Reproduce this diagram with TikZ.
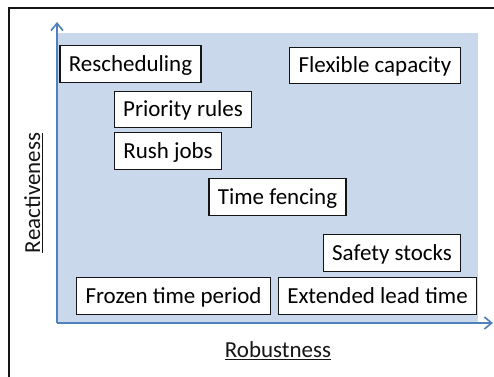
\documentclass[tikz,border=0pt]{standalone}
\usepackage{fontspec}
\setmainfont{Carlito}
\usepackage{tikz}
\usetikzlibrary{arrows.meta}
\definecolor{ink}{HTML}{151515}
\definecolor{axis}{HTML}{4F81BD}
\definecolor{field}{HTML}{CAD8EB}
\tikzset{
  lever/.style={draw=ink,fill=white,line width=1.1pt,inner xsep=0.27cm,inner ysep=0pt,minimum height=1.1cm,text height=16pt,text depth=3.4pt,font=\fontsize{19.6}{23}\selectfont},
  axislabel/.style={font=\fontsize{19.6}{23}\selectfont,color=ink}
}

\begin{document}
\begin{tikzpicture}
  \useasboundingbox (0,0) rectangle (14.82,11.28);
  \fill[white] (0,0) rectangle (14.82,11.28);
  \begin{scope}
    \clip (0,0) rectangle (14.82,11.28);
    \draw[ink,line width=1.3pt] (0.27,-0.5) rectangle (15.3,11.04);
  \end{scope}

  % quadrant
  \fill[field] (1.71,1.59) rectangle (14.34,10.29);
  \coordinate (o) at (1.71,1.59);
  \coordinate (ytip) at (1.71,10.62);
  \coordinate (xtip) at (14.79,1.59);
  \draw[axis,line width=1.4pt,-{Straight Barb[length=2.2mm,width=3.6mm]}] (o) -- (ytip);
  \draw[axis,line width=1.4pt,-{Straight Barb[length=2.2mm,width=3.6mm]}] (o) -- (xtip);

  \node[axislabel] (rob) at (8.34,0.75) {\underline{Robustness}};
  \node[axislabel,rotate=90] (rea) at (1.0,5.49) {\underline{Reactiveness}};

  % levers
  \node[lever] (resch) at (3.915,9.36) {Rescheduling};
  \node[lever] (flex) at (11.25,9.315) {Flexible capacity};
  \node[lever] (prio) at (5.49,7.995) {Priority rules};
  \node[lever] (rush) at (5.04,6.75) {Rush jobs};
  \node[lever] (fence) at (8.325,5.37) {Time fencing};
  \node[lever] (safety) at (11.76,3.69) {Safety stocks};
  \node[lever] (frozen) at (5.205,2.4) {Frozen time period};
  \node[lever] (lead) at (11.325,2.4) {Extended lead time};
\end{tikzpicture}
\end{document}
